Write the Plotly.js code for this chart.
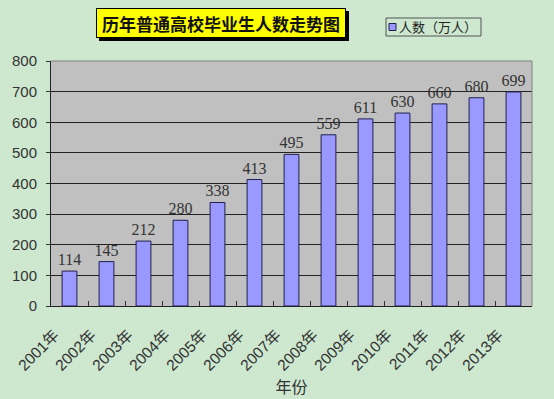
<!DOCTYPE html>
<html>
<head>
<meta charset="utf-8">
<script src="https://cdn.plot.ly/plotly-3.0.1.min.js"></script>
<style>html,body{margin:0;padding:0;background:#cde8cf;}</style>
</head>
<body>
<div id="chart" style="width:554px;height:399px;"></div>
<script>
const years = ["2001年","2002年","2003年","2004年","2005年","2006年","2007年","2008年","2009年","2010年","2011年","2012年","2013年"];
const graduates = [114,145,212,280,338,413,495,559,611,630,660,680,699];
const seriesName = "人数（万人）";
const chartTitle = "历年普通高校毕业生人数走势图";
const xTitle = "年份";
const barColor = "#9999ff";

const trace = {
  type: "bar",
  x: years,
  y: graduates,
  name: seriesName,
  text: graduates.map(String),
  textposition: "outside",
  constraintext: "none",
  cliponaxis: false,
  textfont: {family: "Liberation Serif, serif", size: 16, color: "#333333"},
  marker: {color: barColor, line: {color: "#202050", width: 1}},
  showlegend: false
};

const px = v => (v - 51) / 481;
const py = v => (306 - v) / 245;

const layout = {
  width: 554, height: 399,
  margin: {l: 51, r: 22, t: 61, b: 93},
  paper_bgcolor: "#cde8cf",
  plot_bgcolor: "#c0c0c0",
  bargap: 0.6,
  showlegend: false,
  font: {family: "Liberation Sans, Noto Sans CJK SC, sans-serif", color: "#333333"},
  xaxis: {
    type: "category",
    tickangle: -45,
    ticks: "inside",
    tickson: "boundaries",
    ticklen: 5,
    tickcolor: "#333333",
    ticklabelshift: -15,
    ticklabelstandoff: 13,
    showline: true, linecolor: "#222222", linewidth: 1,
    tickfont: {family: "Liberation Sans, Noto Sans CJK SC, sans-serif", size: 15.5, color: "#333333"},
    title: {text: xTitle, font: {family: "Noto Sans CJK SC, sans-serif", size: 16, color: "#333333"}, standoff: 6},
    showgrid: false,
    automargin: false
  },
  yaxis: {
    range: [0, 800],
    dtick: 100,
    ticks: "outside",
    ticklen: 4,
    tickcolor: "#333333",
    ticklabelstandoff: 6,
    showline: true, linecolor: "#222222", linewidth: 1,
    showgrid: true, gridcolor: "#222222", gridwidth: 1,
    zeroline: false,
    automargin: false,
    tickfont: {family: "Liberation Sans, sans-serif", size: 15, color: "#333333"}
  },
  shapes: [
    {type: "line", xref: "paper", yref: "paper", x0: 0, x1: 1, y0: 1, y1: 1,
     line: {color: "#808080", width: 1}},
    {type: "line", xref: "paper", yref: "paper", x0: 1, x1: 1, y0: 0, y1: 1,
     line: {color: "#808080", width: 1}},
    {type: "rect", xref: "paper", yref: "paper",
     x0: px(99), x1: px(349), y0: py(41), y1: py(11),
     fillcolor: "#000000", line: {width: 0}},
    {type: "rect", xref: "paper", yref: "paper",
     x0: px(386), x1: px(481), y0: py(36), y1: py(18),
     fillcolor: "rgba(0,0,0,0)", line: {color: "#555555", width: 1}},
    {type: "rect", xref: "paper", yref: "paper",
     x0: px(389), x1: px(396), y0: py(30.5), y1: py(23.5),
     fillcolor: barColor, line: {color: "#202050", width: 1}}
  ],
  annotations: [
    {text: "<b>" + chartTitle + "</b>", xref: "paper", yref: "paper",
     x: px(221), y: py(23), xanchor: "center", yanchor: "middle",
     showarrow: false, width: 248, height: 28,
     bgcolor: "#ffff00", bordercolor: "#000000", borderwidth: 1, borderpad: 0,
     font: {family: "Noto Sans CJK SC, sans-serif", size: 17, color: "#111111"}},
    {text: seriesName, xref: "paper", yref: "paper",
     x: px(397), y: py(27), xanchor: "left", yanchor: "middle",
     showarrow: false,
     font: {family: "Noto Sans CJK SC, sans-serif", size: 13, color: "#222222"}}
  ]
};

Plotly.newPlot("chart", [trace], layout, {displayModeBar: false, staticPlot: true});
</script>
</body>
</html>
